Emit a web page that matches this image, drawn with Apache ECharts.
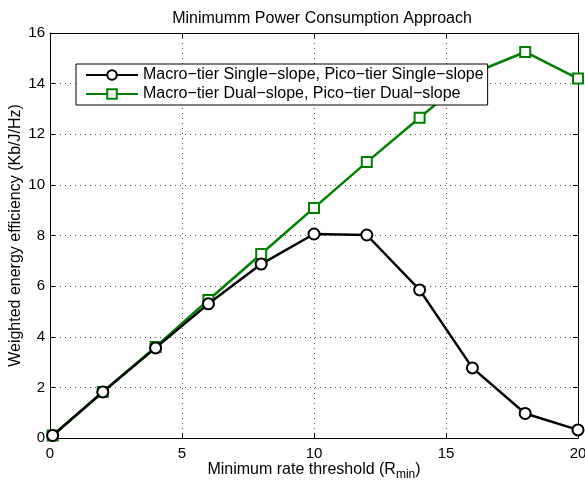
<!DOCTYPE html>
<html><head><meta charset="utf-8">
<script src="https://cdn.jsdelivr.net/npm/echarts@6/dist/echarts.min.js"></script>
<style>html,body{margin:0;padding:0;background:#fff}#c{width:585px;height:485px}</style>
</head><body><div id="c"></div>
<script>
const xValues = [0.1, 2, 4, 6, 8, 10, 12, 14, 16, 18, 20];
const singleSlope = [0.1, 1.82, 3.56, 5.3, 6.87, 8.06, 8.02, 5.85, 2.77, 0.97, 0.32];
const dualSlope = [0.1, 1.82, 3.6, 5.45, 7.27, 9.09, 10.9, 12.65, 14.4, 15.25, 14.2];
const seriesNames = ['Macro\u2212tier Single\u2212slope, Pico\u2212tier Single\u2212slope', 'Macro\u2212tier Dual\u2212slope, Pico\u2212tier Dual\u2212slope'];

const font = 'Liberation Sans, Arial, sans-serif';
const chart = echarts.init(document.getElementById('c'));
const pair = (ys) => xValues.map((x, i) => [x, ys[i]]);
const axisCommon = {
  axisLine: {show: true, onZero: false, lineStyle: {color: '#000', width: 1}},
  axisTick: {show: true, inside: true, length: 5, lineStyle: {color: '#000'}},
  axisLabel: {color: '#000', fontSize: 15, fontFamily: font},
};
chart.setOption({
  animation: false,
  backgroundColor: '#fff',
  title: {text: 'Minimumm Power Consumption Approach', left: 317, textAlign: 'center', top: 6,
    textStyle: {fontSize: 16, fontWeight: 'normal', color: '#000', fontFamily: font}},
  grid: {left: 50, right: 7, top: 33, bottom: 47, containLabel: false, outerBoundsMode: 'none'},
  legend: {
    orient: 'vertical', left: 76, top: 64, width: 407,
    itemWidth: 52, itemHeight: 12, itemGap: 3,
    padding: [3, 4, 3, 9],
    borderColor: '#000', borderWidth: 1, backgroundColor: '#fff',
    textStyle: {fontSize: 16, color: '#000', fontFamily: font},
    data: seriesNames, z: 10
  },
  xAxis: [
    Object.assign({type: 'value', min: 0, max: 20, interval: 5,
      name: 'Minimum rate threshold (R{s|min})', nameLocation: 'middle', nameGap: 21, nameMoveOverlap: false,
      nameTextStyle: {fontSize: 16, color: '#000', fontFamily: font, rich: {s: {fontSize: 12, verticalAlign: 'bottom', padding: [10, 0, 0, 0], fontFamily: font, color: '#000'}}},
      splitLine: {show: true, lineStyle: {color: '#555', type: [1, 4], width: 1}}
    }, axisCommon),
    Object.assign({}, axisCommon, {type: 'value', position: 'top', min: 0, max: 20, interval: 5,
      axisLabel: {show: false}, splitLine: {show: false}})
  ],
  yAxis: [
    Object.assign({type: 'value', min: 0, max: 16, interval: 2,
      name: 'Weighted energy efficiency (Kb/J/Hz)', nameLocation: 'middle', nameGap: 26, nameMoveOverlap: false,
      nameTextStyle: {fontSize: 16, color: '#000', fontFamily: font},
      splitLine: {show: true, lineStyle: {color: '#555', type: [1, 4], width: 1}}
    }, axisCommon, {axisLabel: {color: '#000', fontSize: 15, fontFamily: font, margin: 5}}),
    Object.assign({}, axisCommon, {type: 'value', position: 'right', min: 0, max: 16, interval: 2,
      axisLabel: {show: false}, splitLine: {show: false}})
  ],
  series: [
    {name: seriesNames[0], type: 'line', data: pair(singleSlope), symbol: 'emptyCircle', symbolSize: 11,
      lineStyle: {color: '#000', width: 2.5}, itemStyle: {color: '#000', borderColor: '#000', borderWidth: 2.5}, z: 3},
    {name: seriesNames[1], type: 'line', data: pair(dualSlope), symbol: 'emptyRect', symbolSize: 10,
      lineStyle: {color: '#008000', width: 2.5}, itemStyle: {color: '#008000', borderColor: '#008000', borderWidth: 2.5}, z: 2}
  ]
});
</script></body></html>
